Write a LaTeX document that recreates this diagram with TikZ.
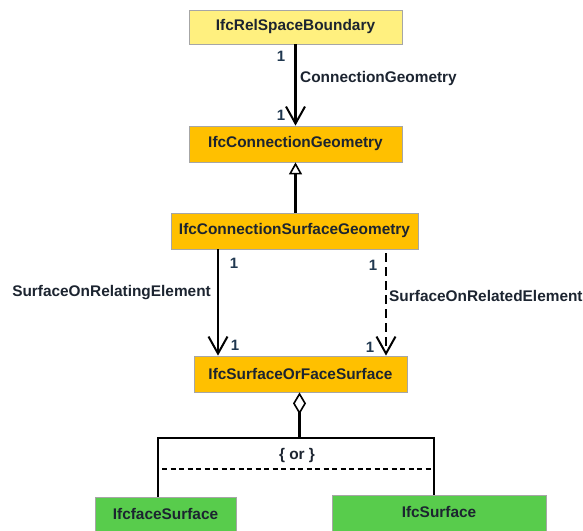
\documentclass[tikz,border=0pt]{standalone}
\usepackage{fontspec}
\setmainfont{Liberation Sans}
\usetikzlibrary{arrows.meta}
\definecolor{boxyellow}{HTML}{FFF07F}
\definecolor{boxorange}{HTML}{FFC000}
\definecolor{boxgreen}{HTML}{58CC4C}
\definecolor{boxborder}{HTML}{A6A6A6}
\definecolor{txt}{HTML}{1C2430}
\definecolor{mult}{HTML}{203850}
\tikzset{
  cls/.style={draw=boxborder, line width=0.8pt, inner sep=0pt, font=\bfseries\fontsize{15.4}{17}\selectfont, text=txt},
  assoc/.style={line width=2.2pt, -{Straight Barb[length=17pt,width=19pt,line width=2pt]}},
  gen/.style={line width=2.2pt, -{Triangle[open,length=12pt,width=13pt,line width=1.6pt]}},
  agg/.style={line width=2.2pt, -{Diamond[open,length=22pt,width=13pt,line width=1.6pt]}},
  lbl/.style={font=\bfseries\fontsize{15.4}{17}\selectfont, text=txt, inner sep=0pt},
  mlt/.style={font=\bfseries\fontsize{15}{17}\selectfont, text=mult, inner sep=0pt},
  brk/.style={line width=2.2pt}
}
\begin{document}
\begin{tikzpicture}[x=1pt,y=-1pt]
\useasboundingbox (0,0) rectangle (583,530);
\node[cls, fill=boxyellow, minimum width=213pt, minimum height=34pt] (rsb) at (295.5,27) {IfcRelSpaceBoundary};
\node[cls, fill=boxorange, minimum width=213pt, minimum height=36pt] (cg) at (295.5,144) {IfcConnectionGeometry};
\node[cls, fill=boxorange, minimum width=247pt, minimum height=36pt] (csg) at (294.5,231) {IfcConnectionSurfaceGeometry};
\node[cls, fill=boxorange, minimum width=213pt, minimum height=36pt] (sofs) at (300.5,374) {IfcSurfaceOrFaceSurface};
\node[cls, fill=boxgreen, minimum width=141pt, minimum height=50pt, text depth=0pt] (fs) at (165.5,522) {};
\node[lbl] (fst) at (165.5,514) {IfcfaceSurface};
\node[cls, fill=boxgreen, minimum width=214pt, minimum height=50pt] (ifs) at (439,520) {};
\node[lbl] (ifst) at (439,512) {IfcSurface};

% association RelSpaceBoundary -> ConnectionGeometry
\draw[assoc] (rsb.south) -- (cg.north);
\node[mlt] (m1) at (281,56) {1};
\node[mlt] (m2) at (281,115) {1};
\node[lbl, anchor=west] (l1) at (300,79) {ConnectionGeometry};

% generalization
\draw[gen] (csg.north -| cg.south) -- (cg.south);

% SurfaceOnRelatingElement
\coordinate (xl) at (218,0);
\draw[assoc] (csg.south -| xl) -- (sofs.north -| xl);
\node[mlt] (m3) at (234,263) {1};
\node[mlt] (m4) at (235,345) {1};
\node[lbl, anchor=east] (l2) at (211,293) {SurfaceOnRelatingElement};

% SurfaceOnRelatedElement
\coordinate (xr) at (386,0);
\draw[assoc, dashed, dash pattern=on 9pt off 5pt] ([yshift=-4pt]csg.south -| xr) -- (sofs.north -| xr);
\node[mlt] (m5) at (373,265) {1};
\node[mlt] (m6) at (370,347) {1};
\node[lbl, anchor=west] (l3) at (389,296) {SurfaceOnRelatedElement};

% aggregation and {or}
\coordinate (bar) at (299.5,438);
\coordinate (bl) at (158,438);
\coordinate (br) at (434,438);
\draw[agg] (bar) -- (bar |- sofs.south);
\draw[brk, line join=miter] (fs.north -| bl) -- (bl) -- (br) -- (ifs.north -| br);
\draw[line width=1.2pt, dash pattern=on 5pt off 3.5pt] (162,469) -- (434,469);
\node[lbl] (or) at (297,456) {\{ or \}};
\end{tikzpicture}
\end{document}
